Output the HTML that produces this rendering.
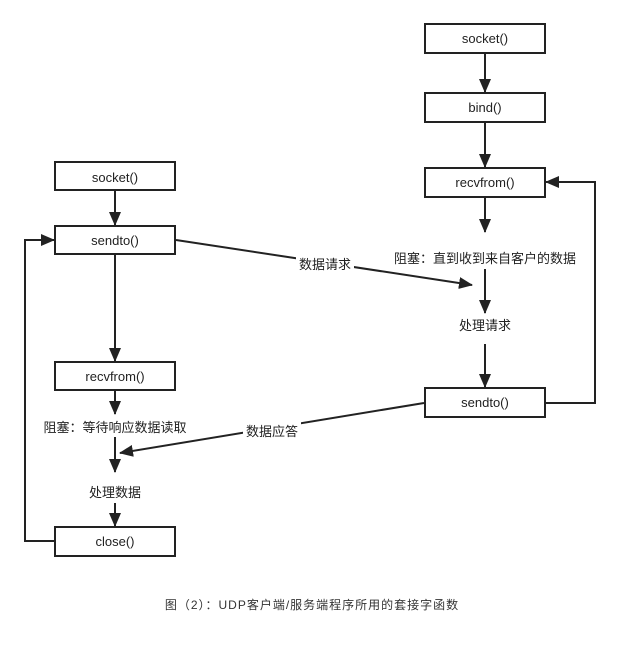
<!DOCTYPE html>
<html><head><meta charset="utf-8"><style>
html,body{margin:0;padding:0;background:#fff;}
svg text{font-family:"Liberation Sans","Noto Sans CJK SC",sans-serif;font-size:13px;fill:#222;}
</style></head><body>
<svg width="620" height="646" viewBox="0 0 620 646" xmlns="http://www.w3.org/2000/svg">
<defs>
<marker id="b" markerWidth="14" markerHeight="12" refX="13" refY="6" orient="auto" markerUnits="userSpaceOnUse">
<path d="M0,0 L14,6 L0,12 Z" fill="#222"/></marker>
</defs>
<g fill="#fff" stroke="#222" stroke-width="2">
<rect x="55" y="162" width="120" height="28"/>
<rect x="55" y="226" width="120" height="28"/>
<rect x="55" y="362" width="120" height="28"/>
<rect x="55" y="527" width="120" height="29"/>
<rect x="425" y="24" width="120" height="29"/>
<rect x="425" y="93" width="120" height="29"/>
<rect x="425" y="168" width="120" height="29"/>
<rect x="425" y="388" width="120" height="29"/>
</g>
<g stroke="#222" stroke-width="2" fill="none">
<line x1="115" y1="190" x2="115" y2="225" marker-end="url(#b)"/>
<line x1="115" y1="254" x2="115" y2="361" marker-end="url(#b)"/>
<line x1="115" y1="390" x2="115" y2="414" marker-end="url(#b)"/>
<line x1="115" y1="437" x2="115" y2="472" marker-end="url(#b)"/>
<line x1="115" y1="503" x2="115" y2="526" marker-end="url(#b)"/>
<polyline points="55,541 25,541 25,240 54,240" marker-end="url(#b)"/>
<line x1="485" y1="53" x2="485" y2="92" marker-end="url(#b)"/>
<line x1="485" y1="122" x2="485" y2="167" marker-end="url(#b)"/>
<line x1="485" y1="197" x2="485" y2="232" marker-end="url(#b)"/>
<line x1="485" y1="269" x2="485" y2="313" marker-end="url(#b)"/>
<line x1="485" y1="344" x2="485" y2="387" marker-end="url(#b)"/>
<polyline points="545,403 595,403 595,182 546,182" marker-end="url(#b)"/>
<line x1="176" y1="240" x2="472" y2="285" marker-end="url(#b)"/>
<line x1="424" y1="403" x2="120" y2="453" marker-end="url(#b)"/>
</g>
<g text-anchor="middle">
<text x="115" y="182">socket()</text>
<text x="115" y="245">sendto()</text>
<text x="115" y="381">recvfrom()</text>
<text x="115" y="546">close()</text>
<text x="485" y="43">socket()</text>
<text x="485" y="112">bind()</text>
<text x="485" y="187">recvfrom()</text>
<text x="485" y="407">sendto()</text>
</g>
<g text-anchor="middle">
<rect x="296" y="255" width="58" height="17" fill="#fff"/>
<text x="325" y="269">数据请求</text>
<rect x="243" y="422" width="58" height="17" fill="#fff"/>
<text x="272" y="436">数据应答</text>
<text x="115" y="432">阻塞：等待响应数据读取</text>
<text x="115" y="497">处理数据</text>
<text x="485" y="263">阻塞：直到收到来自客户的数据</text>
<text x="485" y="330">处理请求</text>
<text x="312" y="609" style="font-size:12px;fill:#333;letter-spacing:1px">图（2）：UDP客户端/服务端程序所用的套接字函数</text>
</g>
</svg>
</body></html>
